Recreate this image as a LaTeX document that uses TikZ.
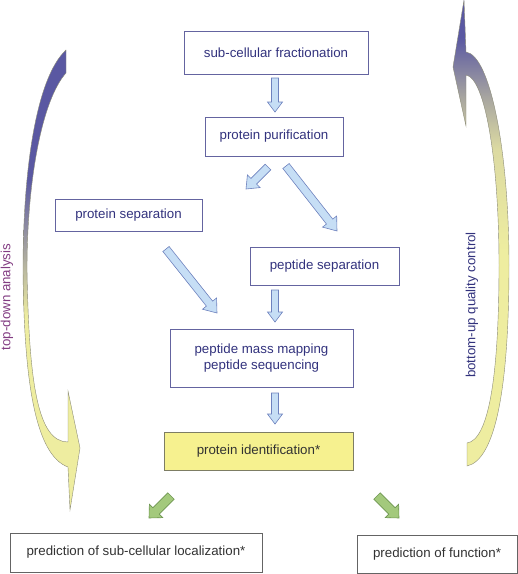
\documentclass[tikz,border=0pt]{standalone}
\usepackage{fontspec}
\setmainfont{Liberation Sans}
\usetikzlibrary{calc}
\definecolor{bandpur}{RGB}{90,88,162}
\definecolor{bandmid}{RGB}{168,166,160}
\definecolor{bandolive}{RGB}{220,218,162}
\definecolor{bandyel}{RGB}{238,237,160}
\definecolor{bandedge}{RGB}{140,140,120}
\definecolor{boxblue}{RGB}{100,100,160}
\definecolor{txtblue}{RGB}{50,50,125}
\definecolor{tdpurple}{RGB}{130,60,130}
\definecolor{identfill}{RGB}{246,241,143}
\definecolor{identedge}{RGB}{125,125,100}
\definecolor{bottxt}{RGB}{50,50,50}
\definecolor{botedge}{RGB}{100,100,100}
\definecolor{arrblue}{RGB}{198,222,245}
\definecolor{arrblueedge}{RGB}{110,130,190}
\definecolor{arrgreen}{RGB}{163,201,124}
\definecolor{arrgreenedge}{RGB}{110,150,80}
\pgfdeclareverticalshading{leftband}{100bp}{color(0bp)=(bandyel); color(46bp)=(bandyel); color(53bp)=(bandmid); color(61bp)=(bandpur); color(100bp)=(bandpur)}
\pgfdeclareverticalshading{rightband}{100bp}{color(0bp)=(bandyel); color(48bp)=(bandyel); color(59bp)=(bandolive); color(64.5bp)=(bandmid); color(71bp)=(bandpur); color(100bp)=(bandpur)}
\newcommand\blkarrow[6]{%
  \coordinate (hb) at ($(#2)!#5!(#1)$);
  \draw[#6] ($(#1)!#3!90:(#2)$) -- ($(hb)!#3!90:(#2)$) -- ($(hb)!#4!90:(#2)$) -- (#2)
    -- ($(hb)!#4!-90:(#2)$) -- ($(hb)!#3!-90:(#2)$) -- ($(#1)!#3!-90:(#2)$) -- cycle;}
\tikzset{
  topbox/.style={draw=boxblue, line width=0.8pt, text=txtblue, inner sep=0pt, align=center},
  identbox/.style={draw=identedge, fill=identfill, line width=0.8pt, text=bottxt, inner sep=0pt},
  botbox/.style={draw=botedge, line width=0.8pt, text=bottxt, inner sep=0pt},
  bluearr/.style={fill=arrblue, draw=arrblueedge, line width=0.6pt},
  greenarr/.style={fill=arrgreen, draw=arrgreenedge, line width=0.6pt},
  bandstyle/.style={draw=bandedge, line width=0.4pt}
}
\begin{document}
\begin{tikzpicture}[x=1pt,y=-1pt,font=\fontsize{13.3}{15.5}\selectfont]
\useasboundingbox (0,0) rectangle (518,574);
% curved bands
\shadedraw[shading=leftband, bandstyle] (66,73) -- (66,50) .. controls (36,78) and (23,170) .. (23,270)
  .. controls (24,380) and (35,455) .. (68,467) -- (70,510) -- (80,448) -- (68,391) -- (68,442)
  .. controls (38,442) and (29,385) .. (27,270) .. controls (27,180) and (42,100) .. (66,73) -- cycle;
\shadedraw[shading=rightband, bandstyle] (467,443) -- (467,466) .. controls (495,460) and (509,390) .. (509,265)
  .. controls (509,150) and (490,55) .. (466,52) -- (464,0) -- (453,67) -- (466,126) -- (466,75)
  .. controls (485,78) and (499,160) .. (499,265) .. controls (499,380) and (488,440) .. (467,443) -- cycle;
\node[rotate=90, text=tdpurple] (tdtext) at (7,297) {top-down analysis};
\node[rotate=90, text=txtblue] (butext) at (472,305) {bottom-up quality control};
% boxes
\node[topbox, minimum width=184pt, minimum height=43pt] (frac) at (276,52.5) {sub-cellular fractionation};
\node[topbox, minimum width=138pt, minimum height=39pt] (purif) at (274,136.5) {protein purification};
\node[topbox, minimum width=147pt, minimum height=32pt] (psep) at (128.5,215) {protein separation};
\node[topbox, minimum width=149pt, minimum height=38pt] (pepsep) at (324.5,266) {peptide separation};
\node[topbox, minimum width=183pt, minimum height=58pt] (mass) at (261.5,358) {peptide mass mapping\\peptide sequencing};
\node[identbox, minimum width=189pt, minimum height=38pt] (ident) at (258.5,451) {protein identification*};
\node[botbox, minimum width=252pt, minimum height=39pt] (loc) at (136,552.5) {prediction of sub-cellular localization*};
\node[botbox, minimum width=160pt, minimum height=38pt] (func) at (437,554) {prediction of function*};
% arrow end points
\coordinate (a1s) at (275,78);  \coordinate (a1t) at (275,112);
\coordinate (a2s) at (268,167); \coordinate (a2t) at (246,189);
\coordinate (a3s) at (286,166); \coordinate (a3t) at (337,231);
\coordinate (a4s) at (166,249); \coordinate (a4t) at (217,313);
\coordinate (a5s) at (275,290); \coordinate (a5t) at (275,322);
\coordinate (a6s) at (275,393); \coordinate (a6t) at (275,424);
\coordinate (g1s) at (171,496); \coordinate (g1t) at (149,518);
\coordinate (g2s) at (377,496); \coordinate (g2t) at (399,518);
\blkarrow{a1s}{a1t}{3.5pt}{7.5pt}{10pt}{bluearr}
\blkarrow{a2s}{a2t}{4pt}{9pt}{11pt}{bluearr}
\blkarrow{a3s}{a3t}{4pt}{9pt}{12pt}{bluearr}
\blkarrow{a4s}{a4t}{4pt}{9pt}{12pt}{bluearr}
\blkarrow{a5s}{a5t}{3.5pt}{7.5pt}{10pt}{bluearr}
\blkarrow{a6s}{a6t}{3.5pt}{7.5pt}{10pt}{bluearr}
\blkarrow{g1s}{g1t}{4.5pt}{9.5pt}{10pt}{greenarr}
\blkarrow{g2s}{g2t}{4.5pt}{9.5pt}{10pt}{greenarr}
\end{tikzpicture}
\end{document}
